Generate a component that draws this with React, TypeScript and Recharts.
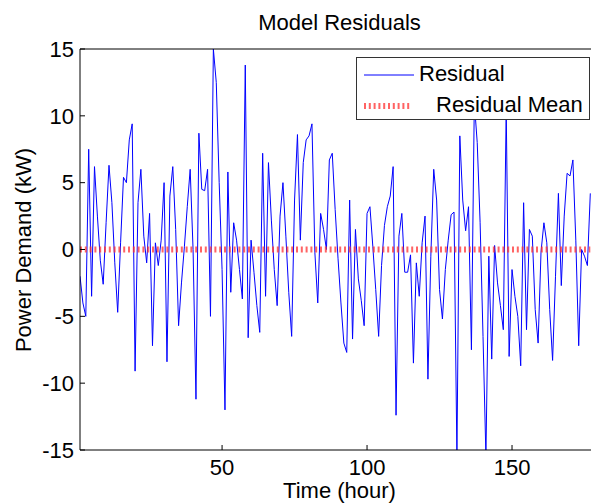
import React from 'react';
import { LineChart, Line, XAxis, YAxis } from 'recharts';

const residual = [
  -2, -4, -5, 7.5, -3.5, 6.2, 2.5, -0.8, -2.6, 2,
  6.3, 3.5, -1, -4.7, 0.5, 5.4, 5.0, 8.2, 9.4, -9.1,
  3.5, 6.0, 1, -1, 2.7, -7.2, 0.5, -1.2, 0.7, 5.0,
  -8.4, 4.0, 6.2, 1.5, -5.7, -2.5, 0.2, 3.2, 6.0, 0,
  -11.2, 8.7, 4.5, 4.4, 6.0, -5, 15, 12.5, 5, -1.5,
  -12, 5.8, -3.2, 2, 0.7, -1.5, -3.7, 13.8, -6.6, 0.7,
  -1.7, -4.2, -6.2, 7.2, -3.5, 6.5, 2.2, -1.5, -4.2, 2.5,
  5, 1.0, -3.2, -6.5, 3.7, 8.6, 0.7, 6.5, 8.2, 8.5,
  9.4, -0.2, -4.0, 2.7, 1.5, 0, 6.7, 7.2, 3, -0.7,
  -4.0, -7, -7.7, 3.7, -6.7, 1.5, -2.2, -3.8, -5.7, 2.7,
  3.2, 0.2, -3, -6.5, -1.2, 1.8, 3.2, 4.0, 6.2, -12.4,
  1, 2.7, -1.7, -1.7, -0.4, -8.5, -1, -3.5, 0.5, 2.5,
  -9.7, -0.5, 6.0, 3.7, -3, -5.2, -1.5, 0.7, 2.6, 2.8,
  -15.5, 8.5, 3.7, 1.4, 3.2, -7.5, 11, 8, 2, -6.5,
  -15.5, -0.5, -8.2, 0.3, -2.5, -4.2, -6, 10.5, -8, -1.5,
  -3.5, -5, -8.7, 3.5, -6, 1.5, 1, -4.5, -7, -0.2,
  2.0, 0.5, -4.5, -8.3, -2, 4.2, -2.7, 2.5, 5.7, 5.5,
  6.7, 0.7, -7.2, 0, -0.5, -1.2, 4.2,
];
const residualMean = 0;

const xTicks = [50, 100, 150];
const yTicks = [-15, -10, -5, 0, 5, 10, 15];
const xDomain: [number, number] = [1, 180];
const yDomain: [number, number] = [-15, 15];

const titleText = 'Model Residuals';
const xLabelText = 'Time (hour)';
const yLabelText = 'Power Demand (kW)';
const seriesNames = ['Residual', 'Residual Mean'];

const FONT = '"Liberation Sans", Arial, Helvetica, sans-serif';
const BLUE = '#0000ff';
const RED = '#ff3030';

const data = residual.map((v, i) => ({ hour: i + 1, residual: v, mean: residualMean }));

const LegendBox = () => (
  <div
    style={{
      position: 'absolute',
      left: 356,
      top: 57,
      width: 234,
      height: 63,
      border: '1px solid #333',
      background: '#fff',
      fontFamily: FONT,
      fontSize: 22,
      color: '#000',
      boxSizing: 'border-box',
    }}
  >
    <svg width={60} height={60} style={{ position: 'absolute', left: 0, top: 0 }}>
      <line x1={7} x2={57} y1={17} y2={17} stroke={BLUE} strokeWidth={1} />
      <line x1={7} x2={55} y1={48} y2={48} stroke={RED} strokeWidth={6} strokeDasharray="2 2.8" opacity={0.75} />
    </svg>
    <div style={{ position: 'absolute', left: 62, top: 3, lineHeight: '26px', whiteSpace: 'nowrap' }}>{seriesNames[0]}</div>
    <div style={{ position: 'absolute', left: 79, top: 34, lineHeight: '26px', whiteSpace: 'nowrap' }}>{seriesNames[1]}</div>
  </div>
);

export default function App() {
  const tickStyle = { fill: '#000', fontSize: 22, fontFamily: FONT };
  return (
    <div style={{ position: 'absolute', left: 0, top: 0, width: 591, height: 504, overflow: 'hidden', background: '#fff' }}>
      <div
        style={{
          position: 'absolute', left: 0, top: 10, width: 679, textAlign: 'center',
          fontFamily: FONT, fontSize: 22, lineHeight: '26px', color: '#000',
        }}
      >
        {titleText}
      </div>
      <div
        style={{
          position: 'absolute', left: 24, top: 250, transform: 'translate(-50%, -50%) rotate(-90deg)',
          fontFamily: FONT, fontSize: 22, lineHeight: '26px', color: '#000', whiteSpace: 'nowrap',
        }}
      >
        {yLabelText}
      </div>
      <div
        style={{
          position: 'absolute', left: 0, top: 478, width: 679, textAlign: 'center',
          fontFamily: FONT, fontSize: 22, lineHeight: '26px', color: '#000',
        }}
      >
        {xLabelText}
      </div>
      <div style={{ position: 'absolute', left: 0, top: 0 }}>
        <LineChart width={600} height={504} data={data} margin={{ top: 48, right: 1, left: 0, bottom: 0 }}>
          <XAxis
            xAxisId="bottom"
            dataKey="hour"
            type="number"
            domain={xDomain}
            ticks={xTicks}
            allowDataOverflow
            height={54}
            tickSize={-5}
            tickMargin={14}
            tick={tickStyle}
            axisLine={{ stroke: '#000' }}
            tickLine={{ stroke: '#000' }}
          />
          <XAxis
            xAxisId="top"
            orientation="top"
            dataKey="hour"
            type="number"
            domain={xDomain}
            ticks={xTicks}
            allowDataOverflow
            height={1}
            tickSize={-5}
            tick={false}
            axisLine={{ stroke: '#000' }}
            tickLine={{ stroke: '#000' }}
          />
          <YAxis
            type="number"
            domain={yDomain}
            ticks={yTicks}
            allowDataOverflow
            width={80}
            tickSize={-5}
            tickMargin={11}
            tick={tickStyle}
            axisLine={{ stroke: '#000' }}
            tickLine={{ stroke: '#000' }}
            interval={0}
          />
          <Line
            xAxisId="bottom"
            type="linear"
            dataKey="residual"
            stroke={BLUE}
            strokeWidth={1}
            dot={false}
            activeDot={false}
            isAnimationActive={false}
          />
          <Line
            xAxisId="bottom"
            type="linear"
            dataKey="mean"
            stroke={RED}
            strokeWidth={6}
            strokeDasharray="2 2.8"
            strokeOpacity={0.75}
            dot={false}
            activeDot={false}
            isAnimationActive={false}
          />
        </LineChart>
      </div>
      <LegendBox />
    </div>
  );
}
